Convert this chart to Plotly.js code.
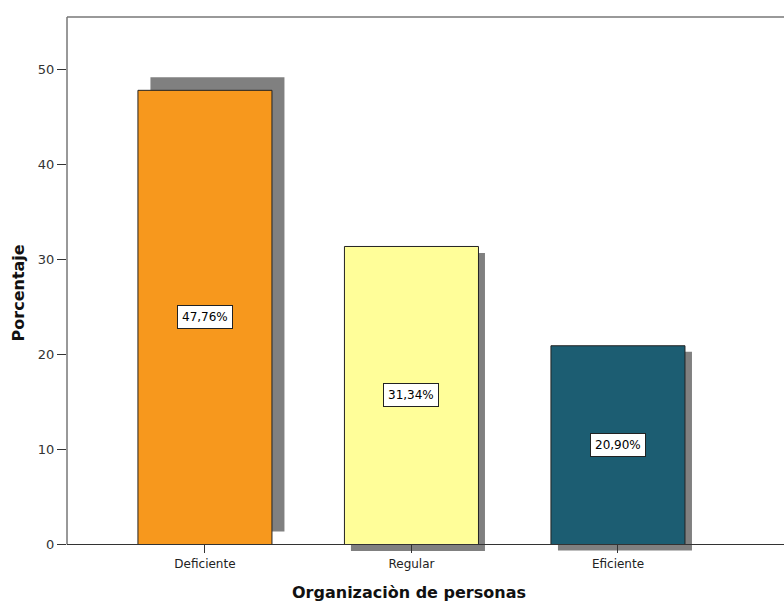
<!DOCTYPE html>
<html>
<head>
<meta charset="utf-8">
<script src="https://cdn.plot.ly/plotly-3.0.1.min.js"></script>
<style>html,body{margin:0;padding:0;background:#fff;}#chart{width:784px;height:603px;}</style>
</head>
<body>
<div id="chart"></div>
<script>
// ---- data ----
const categories = ['Deficiente', 'Regular', 'Eficiente'];
const percentages = [47.76, 31.34, 20.90];
const yTickValues = [0, 10, 20, 30, 40, 50];
const xTitle = 'Organizaciòn de personas';
const yTitle = 'Porcentaje';

// ---- style ----
const barColors = ['#F7981D', '#FFFE99', '#1C5D72'];
const shadowColor = '#808080';
const shadowDxPx = [12.5, 6.5, 7];    // shadow shift right (px)
const shadowDyPx = [13, -6.5, -6];    // shadow shift up (px)
const W = 784, H = 603;
const M = {l: 67, r: 0, t: 17, b: 50};
const xRange = [-0.668, 2.804];
const yRange = [-0.894, 55.47];
const barWidth = 0.649;
const FONT = 'DejaVu Sans, Verdana, sans-serif';

const plotW = W - M.l - M.r, plotH = H - M.t - M.b;
const pxPerX = plotW / (xRange[1] - xRange[0]);
const pxPerY = plotH / (yRange[1] - yRange[0]);
const zeroPos = (0 - yRange[0]) / (yRange[1] - yRange[0]);

const shadow = {
  type: 'bar',
  x: categories,
  y: percentages,
  base: shadowDyPx.map(d => d / pxPerY),
  width: barWidth,
  offset: shadowDxPx.map(d => -barWidth / 2 + d / pxPerX),
  marker: {color: shadowColor, line: {width: 0}},
  hoverinfo: 'skip',
  showlegend: false
};
const bars = {
  type: 'bar',
  x: categories,
  y: percentages,
  width: barWidth,
  marker: {color: barColors, line: {color: '#222', width: 1}},
  hoverinfo: 'skip',
  showlegend: false
};

const fmt = v => v.toFixed(2).replace('.', ',') + '%';
const labelAnns = categories.map((c, i) => ({
  x: c, y: percentages[i] / 2, xref: 'x', yref: 'y',
  text: fmt(percentages[i]), showarrow: false,
  bgcolor: '#fff', bordercolor: '#222', borderwidth: 1, borderpad: 4,
  font: {family: FONT, size: 12, color: '#000'}
}));

const layout = {
  width: W, height: H,
  margin: M,
  paper_bgcolor: '#fff', plot_bgcolor: '#fff',
  barmode: 'overlay',
  showlegend: false,
  font: {family: FONT, size: 12, color: '#222'},
  xaxis: {
    type: 'category', range: xRange,
    anchor: 'free', position: zeroPos,
    showline: true, linecolor: '#333', linewidth: 1,
    ticks: 'outside', ticklen: 8, tickcolor: '#333', tickwidth: 1,
    showgrid: false, zeroline: false,
    tickfont: {family: FONT, size: 12, color: '#222'}
  },
  yaxis: {
    range: yRange, tickvals: yTickValues,
    showline: false, showgrid: false, zeroline: false,
    ticks: 'outside', ticklen: 9, tickcolor: '#333', tickwidth: 1,
    tickfont: {family: FONT, size: 13, color: '#333'}
  },
  shapes: [
    {type: 'line', xref: 'paper', yref: 'y', x0: 0, x1: 0, y0: 0, y1: yRange[1],
     line: {color: '#333', width: 1}},
    {type: 'line', xref: 'paper', yref: 'paper', x0: 0, x1: 1, y0: 1, y1: 1,
     line: {color: '#777', width: 1.5}}
  ],
  annotations: labelAnns.concat([
    {text: xTitle, xref: 'x', x: 1, xshift: -2.5, yref: 'paper', y: 0, yanchor: 'middle', yshift: -39,
     showarrow: false, font: {family: FONT, size: 16, color: '#111', weight: 'bold'}},
    {text: yTitle, xref: 'paper', x: 0, xanchor: 'center', xshift: -49, yref: 'y', y: 26.4,
     yanchor: 'middle', textangle: -90,
     showarrow: false, font: {family: FONT, size: 16, color: '#111', weight: 'bold'}}
  ])
};

Plotly.newPlot('chart', [shadow, bars], layout, {staticPlot: true, displayModeBar: false});
</script>
</body>
</html>
